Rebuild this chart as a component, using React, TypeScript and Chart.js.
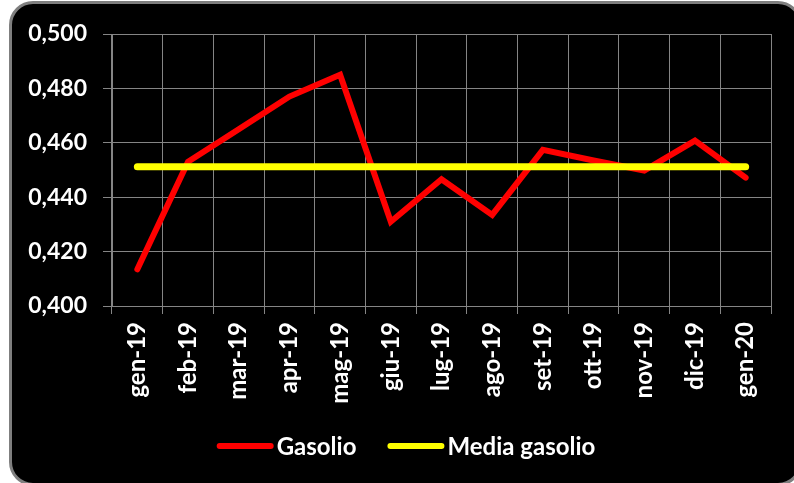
import React, { useEffect, useRef } from "react";
import { Chart, registerables } from "chart.js";

Chart.register(...registerables);

const categories = [
  "gen-19", "feb-19", "mar-19", "apr-19", "mag-19", "giu-19", "lug-19",
  "ago-19", "set-19", "ott-19", "nov-19", "dic-19", "gen-20",
];
const gasolio = [
  0.4135, 0.453, 0.465, 0.477, 0.485, 0.431, 0.4466,
  0.4335, 0.4574, 0.4535, 0.4498, 0.4608, 0.4472,
];
const mediaGasolio = [
  0.4512, 0.4512, 0.4512, 0.4512, 0.4512, 0.4512, 0.4512,
  0.4512, 0.4512, 0.4512, 0.4512, 0.4512, 0.4512,
];
const seriesNames = ["Gasolio", "Media gasolio"];
const seriesColors = ["#FF0000", "#FFFF00"];
const yMin = 0.4;
const yMax = 0.5;
const yStep = 0.02;

const FONT = "Lato, 'Open Sans', sans-serif";
const GRID = "#858585";

const legendPlugin = {
  id: "customLegend",
  afterDraw(chart: any) {
    const ctx = chart.ctx;
    ctx.save();
    ctx.font = `bold 24px ${FONT}`;
    const lineLen = 57;
    const gap = 3;
    const itemGap = 31;
    const items = chart.data.datasets.map((ds: any) => ({
      label: ds.label,
      color: ds.borderColor,
      w: ctx.measureText(ds.label).width,
    }));
    const total =
      items.reduce((s: number, it: any) => s + lineLen + gap + it.w, 0) +
      itemGap * (items.length - 1);
    let x = 406 - total / 2;
    const y = 446;
    items.forEach((it: any) => {
      ctx.strokeStyle = it.color;
      ctx.lineWidth = 6;
      ctx.lineCap = "round";
      ctx.beginPath();
      ctx.moveTo(x + 3, y);
      ctx.lineTo(x + lineLen - 3, y);
      ctx.stroke();
      ctx.fillStyle = "#FFFFFF";
      ctx.textAlign = "left";
      ctx.textBaseline = "middle";
      ctx.fillText(it.label, x + lineLen + gap, y + 1);
      x += lineLen + gap + it.w + itemGap;
    });
    ctx.restore();
  },
};

export default function App() {
  const ref = useRef<HTMLCanvasElement | null>(null);

  useEffect(() => {
    if (!ref.current) return;
    const chart = new Chart(ref.current, {
      type: "line",
      data: {
        labels: categories,
        datasets: [
          {
            label: seriesNames[0],
            data: gasolio,
            borderColor: seriesColors[0],
            backgroundColor: seriesColors[0],
            borderWidth: 6,
            pointRadius: 0,
            borderCapStyle: "round",
            borderJoinStyle: "miter",
            tension: 0,
            order: 1,
          },
          {
            label: seriesNames[1],
            data: mediaGasolio,
            borderColor: seriesColors[1],
            backgroundColor: seriesColors[1],
            borderWidth: 7,
            pointRadius: 0,
            borderCapStyle: "round",
            tension: 0,
            order: 0,
          },
        ],
      },
      options: {
        animation: false,
        responsive: false,
        maintainAspectRatio: false,
        layout: { padding: { top: 34, right: 23, left: 0, bottom: 0 } },
        plugins: {
          legend: { display: false },
          tooltip: { enabled: false },
        },
        scales: {
          x: {
            offset: true,
            afterFit: (s: any) => {
              s.height = 177;
            },
            grid: {
              offset: true,
              color: GRID,
              lineWidth: 1,
              tickLength: 8,
              drawTicks: true,
            },
            border: { display: true, color: GRID, width: 1 },
            ticks: {
              autoSkip: false,
              minRotation: 90,
              maxRotation: 90,
              padding: 8,
              color: "#FFFFFF",
              font: { family: FONT, size: 24, weight: "bold" },
            },
          },
          y: {
            min: yMin,
            max: yMax,
            afterFit: (s: any) => {
              s.width = 112;
            },
            grid: {
              color: GRID,
              lineWidth: 1,
              tickLength: 9,
              drawTicks: true,
            },
            border: { display: true, color: GRID, width: 1 },
            ticks: {
              stepSize: yStep,
              padding: 16,
              color: "#FFFFFF",
              font: { family: FONT, size: 23, weight: "bold" },
              callback: (v: any) => Number(v).toFixed(3).replace(".", ","),
            },
          },
        },
      },
      plugins: [legendPlugin],
    });
    return () => chart.destroy();
  }, []);

  return (
    <div
      style={{
        position: "fixed",
        left: 0,
        top: 0,
        width: 794,
        height: 483,
        background: "#FFFFFF",
        overflow: "hidden",
      }}
    >
      <div
        style={{
          position: "absolute",
          left: 9,
          top: 1,
          width: 793,
          height: 485,
          boxSizing: "border-box",
          border: "3px solid #7f7f7f",
          borderRadius: 24,
          background: "#000000",
        }}
      />
      <canvas
        ref={ref}
        width={794}
        height={483}
        style={{ position: "absolute", left: 0, top: 0, width: 794, height: 483 }}
      />
    </div>
  );
}
